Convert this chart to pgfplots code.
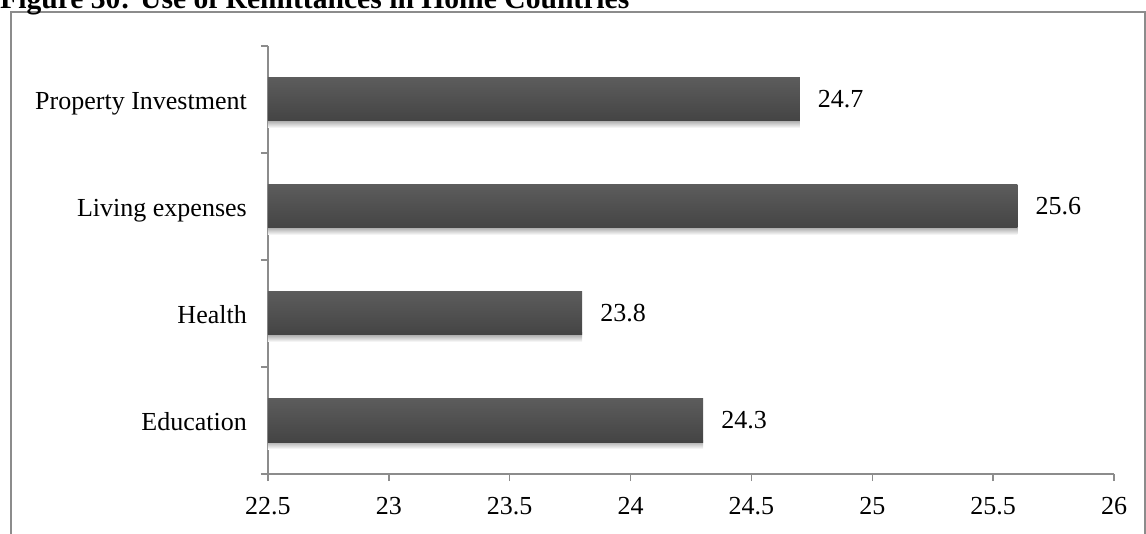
\documentclass[border=0pt]{standalone}
\usepackage{pgfplots}
\pgfplotsset{compat=1.18}
\usepackage{fontspec}
\setmainfont{Liberation Serif}
\newcommand\chartfont{\fontsize{26}{31}\selectfont}
\definecolor{axisgray}{HTML}{8C8C8C}
\definecolor{bartop}{HTML}{5C5C5C}
\definecolor{barbottom}{HTML}{444444}

\pgfplotsset{
  % soft shadow strip just under a bar
  barshadow/.style={xbar, bar width=9pt, bar shift=-24pt, draw=none,
    top color=black!40, bottom color=white, forget plot},
  % the bar itself, with its value printed at the end
  mainbar/.style={xbar, bar width=43pt, bar shift=0pt, draw=none,
    top color=bartop, bottom color=barbottom,
    point meta=explicit,
    nodes near coords,
    nodes near coords style={font=\chartfont, anchor=west, inner sep=0pt, xshift=18pt,
      /pgf/number format/.cd, fixed, precision=1, fixed zerofill}},
}

\begin{document}
\begin{tikzpicture}
\useasboundingbox (0pt,0pt) rectangle (1146pt,533pt);
% outer frame
\draw[axisgray, line width=2pt] (11pt,-10pt) -- (11pt,521pt) -- (1145pt,521pt) -- (1145pt,-10pt);
% title
\node[anchor=base west, inner sep=0pt, font=\fontsize{29.6}{36}\selectfont\bfseries] at (0pt,524pt)
  {Figure 30: Use of Remittances in Home Countries};
\begin{axis}[
  at={(268pt,59pt)}, anchor=south west,
  scale only axis, width=846pt, height=428pt,
  % bars grow from the left edge of the axis (22.5)
  x coord trafo/.code={\pgfmathparse{#1-22.5}},
  x coord inv trafo/.code={\pgfmathparse{#1+22.5}},
  xmin=22.5, xmax=26, ymin=-0.5, ymax=3.5,
  enlargelimits=false,
  axis lines=left,
  axis line style={-, draw=axisgray, line width=1.5pt},
  tick style={draw=axisgray, line width=1.5pt},
  tick align=outside,
  major tick length=7pt,
  xtick={22.5,23,...,26},
  /pgf/number format/assume math mode=true,
  ticklabel style={font=\chartfont},
  xticklabel style={inner sep=0pt, anchor=north, yshift=-16pt},
  ytick={-0.5,0.5,1.5,2.5,3.5},
  yticklabels={},
  extra y ticks={0,1,2,3},
  extra y tick labels={Education,Health,Living expenses,Property Investment},
  extra y tick style={tick style={draw=none},
    yticklabel style={inner sep=0pt, anchor=base east, xshift=-14pt, yshift=-10pt}},
]
\addplot[barshadow] coordinates {(24.3,0)};
\addplot[barshadow] coordinates {(23.8,1)};
\addplot[barshadow] coordinates {(25.6,2)};
\addplot[barshadow] coordinates {(24.7,3)};
\addplot[mainbar] coordinates {(24.3,0) [24.3]};
\addplot[mainbar] coordinates {(23.8,1) [23.8]};
\addplot[mainbar] coordinates {(25.6,2) [25.6]};
\addplot[mainbar] coordinates {(24.7,3) [24.7]};
\end{axis}
\end{tikzpicture}
\end{document}
